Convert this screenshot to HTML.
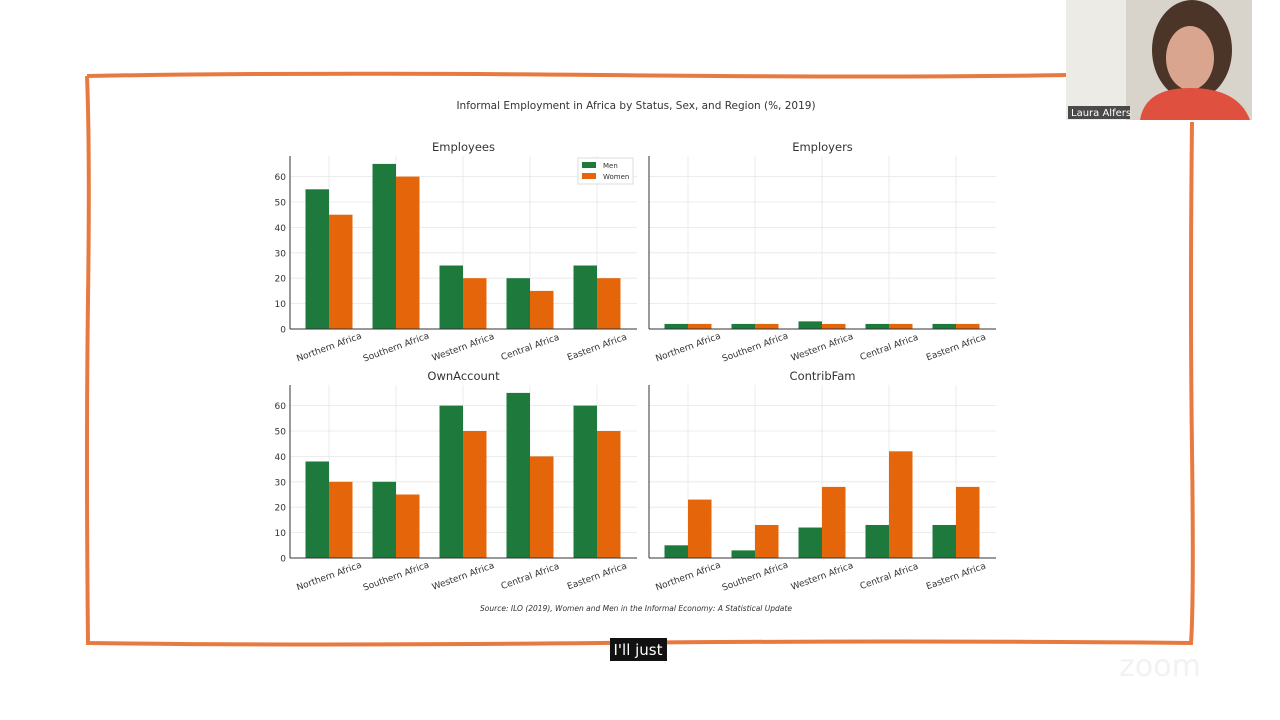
<!DOCTYPE html>
<html><head><meta charset="utf-8"><style>
body{margin:0;width:1280px;height:720px;background:#fff;overflow:hidden;font-family:"Liberation Sans","DejaVu Sans",sans-serif;position:relative}
svg text{font-family:"DejaVu Sans","Liberation Sans",sans-serif}
</style></head><body>
<svg width="1280" height="720" style="position:absolute;left:0;top:0">
<path d="M87,76 Q300,72 600,75 T1066,75 M1192,122 Q1190,300 1192,450 T1191,643 Q900,640 600,643 T88,643 Q86,450 88,300 T87,76" fill="none" stroke="#e8793f" stroke-width="4"/>
<text x="636" y="109" font-size="10.5" text-anchor="middle" fill="#333">Informal Employment in Africa by Status, Sex, and Region (%, 2019)</text>
<text x="636" y="611" font-size="7.5" font-style="italic" text-anchor="middle" fill="#333">Source: ILO (2019), Women and Men in the Informal Economy: A Statistical Update</text>
<g id="charts"></g>
<rect x="1066" y="0" width="186" height="120" fill="#d8d4cc"/>
<rect x="1066" y="0" width="60" height="120" fill="#ecebe6"/>
<ellipse cx="1192" cy="50" rx="40" ry="50" fill="#4a3528"/>
<ellipse cx="1190" cy="58" rx="24" ry="32" fill="#d9a58e"/>
<path d="M1140,120 Q1145,88 1190,88 Q1238,88 1250,120Z" fill="#e0503e"/>
<rect x="1068" y="106" width="62" height="13" fill="#222" opacity="0.8"/>
<text x="1071" y="116" font-size="10" fill="#fff">Laura Alfers</text>
<rect x="610" y="638" width="57" height="23" fill="#111"/>
<text x="638" y="655" font-size="15" fill="#fff" text-anchor="middle">I'll just</text>
<text x="1160" y="676" font-size="30" fill="#f2f2f2" text-anchor="middle">zoom</text>
</svg>
<script>
const categories=["Northern Africa","Southern Africa","Western Africa","Central Africa","Eastern Africa"];
const titles=["Employees","Employers","OwnAccount","ContribFam"];
const menValues=[[55,65,25,20,25],[2,2,3,2,2],[38,30,60,65,60],[5,3,12,13,13]];
const womenValues=[[45,60,20,15,20],[2,2,2,2,2],[30,25,50,40,50],[23,13,28,42,28]];
const yTicks=[0,10,20,30,40,50,60];
const NS="http://www.w3.org/2000/svg";
const g=document.getElementById('charts');
function mk(t,a,p){const e=document.createElementNS(NS,t);for(const k in a)e.setAttribute(k,a[k]);(p||g).appendChild(e);return e;}
const panels=[[290,329],[649,329],[290,558],[649,558]];
panels.forEach((pp,pi)=>{
  const [x0,y0]=pp, w=347, top=y0-173;
  const y=v=>y0-v*2.54, x=i=>x0+39+67*i;
  const pg=mk('g',{});
  
  
  yTicks.forEach(t=>{
    mk('line',{x1:x0,x2:x0+w,y1:y(t),y2:y(t),stroke:'#e6e6e6','stroke-width':0.8},pg);
    if(pi%2==0){const tx=mk('text',{x:x0-4,y:y(t)+3.5,'font-size':9,'text-anchor':'end',fill:'#333'},pg);tx.textContent=t;}
  });
  categories.forEach((c,i)=>{
    mk('line',{x1:x(i),x2:x(i),y1:top,y2:y0,stroke:'#e6e6e6','stroke-width':0.8},pg);
    const bm=mk('rect',{x:x(i)-23.5,y:y(menValues[pi][i]),width:23.5,height:menValues[pi][i]*2.54,fill:'#1e7a3c'},pg);
    
    
    const bw=mk('rect',{x:x(i),y:y(womenValues[pi][i]),width:23.5,height:womenValues[pi][i]*2.54,fill:'#e5650a'},pg);
    
    
    const ly=y0+21;
    const tl=mk('text',{x:x(i),y:ly,'font-size':9,'text-anchor':'middle',fill:'#333',transform:`rotate(-20 ${x(i)} ${ly-3})`},pg);
    tl.textContent=c;
  });
  mk('line',{x1:x0,x2:x0,y1:top,y2:y0,stroke:'#333','stroke-width':1},pg);
  mk('line',{x1:x0,x2:x0+w,y1:y0,y2:y0,stroke:'#333','stroke-width':1},pg);
  const tt=mk('text',{x:x0+w/2,y:top-5,'font-size':11.5,'text-anchor':'middle',fill:'#333'},pg);
  tt.textContent=titles[pi];
});
const lg=mk('g',{});


mk('rect',{x:578,y:158,width:55,height:26,fill:'#fff',stroke:'#ddd'},lg);
mk('rect',{x:582,y:162,width:14,height:6,fill:'#1e7a3c'},lg);
mk('rect',{x:582,y:173,width:14,height:6,fill:'#e5650a'},lg);
let t1=mk('text',{x:603,y:168,'font-size':7,fill:'#333'},lg);t1.textContent='Men';
let t2=mk('text',{x:603,y:179,'font-size':7,fill:'#333'},lg);t2.textContent='Women';
</script>
</body></html>
